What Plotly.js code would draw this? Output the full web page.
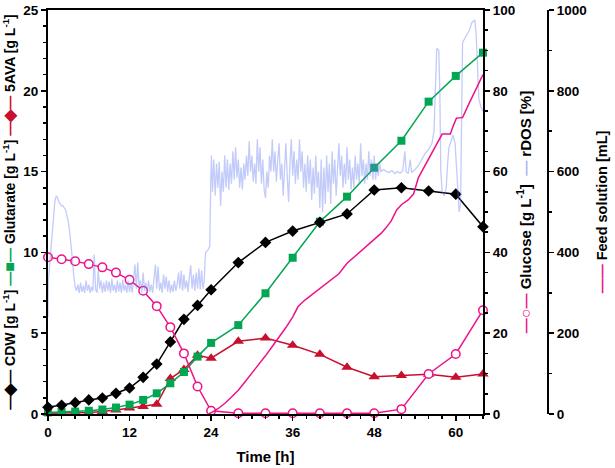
<!DOCTYPE html>
<html><head><meta charset="utf-8">
<script src="https://cdn.plot.ly/plotly-3.0.1.min.js"></script>
<style>html,body{margin:0;padding:0;background:#fff;} #chart{width:615px;height:468px;}</style>
</head><body><div id="chart"></div>
<script>
// Sampling times [h]
const sampleTime = [0,2,4,6,8,10,12,14,16,18,20,22,24,28,32,36,40,44,48,52,56,60,64];
// Cell dry weight [g/L]
const cdw = [0.41,0.54,0.70,0.87,0.99,1.28,1.61,2.27,3.09,4.46,5.86,6.72,7.69,9.37,10.62,11.32,11.86,12.38,13.86,14.0,13.8,13.6,11.59];
// Glutarate [g/L]
const glutarate = [0.10,0.12,0.15,0.20,0.28,0.40,0.58,0.87,1.28,1.90,2.60,3.55,4.40,5.50,7.47,9.67,11.90,13.45,15.24,16.91,19.33,20.92,22.36];
// 5AVA [g/L]
const ava = [0.05,0.05,0.08,0.10,0.15,0.25,0.37,0.47,0.60,2.19,2.76,3.63,3.45,4.50,4.70,4.25,3.69,2.89,2.31,2.39,2.46,2.27,2.48];
// Glucose [g/L]
const glucose = [38.8,38.3,37.8,37.1,36.3,35.0,33.2,30.5,26.7,21.5,15.0,6.8,0.8,0.2,0.2,0.2,0.2,0.2,0.2,1.2,9.9,14.85,25.7];
// Feed solution [mL]
const feedTime = [23.6,24,25,26,27,28,29,30,31,32,33,34,35,36,36.8,37.8,38.8,39.8,40.8,41.8,42.8,44,45,46,47,48,49,49.8,50.5,51.3,52,53,53.8,54.5,55.5,56.5,57.3,58,58.6,59.2,59.6,60.1,60.5,61,62,63,64];
const feedVolume = [0,3,13,26,42,59,80,101,122,144,167,190,214,240,266,282,295,307,320,332,347,373,388,402,416,431,447,462,478,505,518,530,545,585,615,645,670,693,693,693,712,732,733,734,770,805,840];
// rDOS [%]
const rdosTime = [0,0.05,0.2,0.4,0.6,0.8,1.0,1.2,1.4,1.6,1.8,2.0,2.2,2.4,2.6,2.8,3.0,3.2,3.4,3.6,3.8,4.0,4.2,
4.4,4.6,4.8,5.0,5.2,5.4,5.6,5.8,6.0,6.2,6.4,6.6,6.8,7.0,7.2,7.4,7.6,7.8,8.0,8.2,8.4,8.6,8.8,9.0,9.2,9.4,9.6,9.8,
10.0,10.2,10.4,10.6,10.8,11.0,11.2,11.4,11.6,11.8,12.0,12.2,12.4,12.6,12.8,13.0,13.2,13.4,13.6,13.8,14.0,14.2,14.4,14.6,14.8,
15.0,15.2,15.4,15.6,15.8,16.0,16.2,16.4,16.6,16.8,17.0,17.2,17.4,17.6,17.8,18.0,18.2,18.4,18.6,18.8,19.0,19.2,19.4,19.6,19.8,
20.0,20.2,20.4,20.6,20.8,21.0,21.2,21.4,21.6,21.8,22.0,22.2,22.4,22.6,22.8,23.0,23.1,23.2,23.5,23.8,23.95,24.05,
24.2,24.4,24.6,24.8,25.0,25.2,25.4,25.6,25.8,26.0,26.2,26.4,26.6,26.8,27.0,27.2,27.4,27.6,27.8,28.0,28.2,28.4,28.6,28.8,
29.0,29.2,29.4,29.6,29.8,30.0,30.2,30.4,30.6,30.8,31.0,31.2,31.4,31.6,31.8,32.0,32.2,32.4,32.6,32.8,33.0,33.2,33.4,33.6,33.8,
34.0,34.2,34.4,34.6,34.8,35.0,35.2,35.4,35.6,35.8,36.0,36.2,36.4,36.6,36.8,37.0,37.2,37.4,37.6,37.8,38.0,38.2,38.4,38.6,38.8,
39.0,39.2,39.4,39.6,39.8,40.0,40.2,40.4,40.6,40.8,41.0,41.2,41.4,41.6,41.8,42.0,42.2,42.4,42.6,42.8,43.0,43.2,43.4,43.6,43.8,
44.0,44.2,44.4,44.6,44.8,45.0,45.2,45.4,45.6,45.8,46.0,46.2,46.4,46.6,46.8,47.0,47.2,47.4,47.6,47.8,48.0,48.2,48.4,48.6,48.8,49.0,
49.4,49.8,50.2,50.6,51.0,51.4,51.8,52.2,52.5,52.7,53.0,53.3,53.5,54.0,54.5,55.0,55.5,56.0,56.5,56.8,57.0,57.2,57.5,57.65,57.8,
58.0,58.3,58.6,58.8,59.0,59.3,59.6,59.9,60.2,60.5,60.7,60.9,61.0,61.5,62.0,62.4,62.8,63.0,63.2,63.4,63.7,64.0];
const rdosValue = [24,33,36,40,45,50,52.5,54,53.5,52.5,52,51.5,51.5,51,50.5,49,47.5,45,42,38,34,31.5,30.5,
32,30,32.5,30.2,31.8,30,33,30.5,32,30,31.5,30.4,39.5,31,30,35.5,31,33,30,32.5,30.2,33,30.5,32.8,30,33.5,30.5,32,
30,33,30.3,32.5,30,33.2,30.5,32,30,33,30.2,32.5,30,33.5,37,31,37.5,31.5,33,30,35,30.5,32.5,30,33,
30.2,32,30,33.5,37,31,36.5,30.5,32.5,30,34.5,31,34,30.3,33,30,32,30.2,33,30.5,32,35,31,35.5,30.5,
34.5,31,33,30.2,34,36.8,31,34.5,30.5,35,31,36,30.8,35.5,31,33,38,40,40.5,41.5,58,64,
55,63,54,62,56,62.5,51.5,60,55,64,56,63,55.5,62,57,65,58,66,58.5,63,56,61,55.5,62,
58,64,59,67.5,60,64,57.5,62,57,68,60,66,57,63,55.5,53.5,60,56,64,60,68,60,65,57.5,63,
67,58,62,54,61,67,59,52.5,62,68,59,65,57,63,58,68,60,65,56,62,55,64,57,63,53,
61,54.5,64,56,60,51,63,50,61,52,64,55,62,52,65,57,63,54,61,67,59,64,56,62,57,
66,58,63,55.5,61,56,64,58,62,57,67,59,63,57,62,58,65,59,63,58,64,58,62,59,62,60,
60.5,60,59.8,60.3,59.5,60,59.6,60.2,65,60,59.5,63,59.8,60.5,61.5,63,64.5,65.5,67,70,82,90.5,90,80,60,
55,54,56,62,66,67.5,69,67,58,50,52,80,92,93.5,95,97,97.5,94,85,78,76,75];

const PINK = '#ee1289', GREEN = '#00a651', RED = '#c8102e', BLUE_T = 'rgba(110,130,240,0.42)';
const FONT = 'Liberation Sans, Arial, Helvetica, sans-serif';
const nb = '\u00a0';

const traces = [
  {x: sampleTime, y: ava, yaxis: 'y', xaxis: 'x', mode: 'lines+markers', cliponaxis: false,
   line: {color: RED, width: 1.5}, marker: {symbol: 'triangle-up', size: 10, color: RED}},
  {x: sampleTime, y: glutarate, yaxis: 'y', xaxis: 'x', mode: 'lines+markers', cliponaxis: false,
   line: {color: GREEN, width: 1.5}, marker: {symbol: 'square', size: 8, color: GREEN}},
  {x: sampleTime, y: cdw, yaxis: 'y', xaxis: 'x', mode: 'lines+markers', cliponaxis: false,
   line: {color: '#000', width: 1.5}, marker: {symbol: 'diamond', size: 9, color: '#000'}},
  {x: sampleTime, y: glucose, yaxis: 'y2', xaxis: 'x', mode: 'lines+markers', cliponaxis: false,
   line: {color: PINK, width: 1.5}, marker: {symbol: 'circle', size: 8.5, color: '#fff', line: {color: PINK, width: 1.5}}},
  {x: rdosTime, y: rdosValue, yaxis: 'y2', xaxis: 'x', mode: 'lines',
   line: {color: BLUE_T, width: 1.3}},
  {x: feedTime, y: feedVolume, yaxis: 'y3', xaxis: 'x', mode: 'lines',
   line: {color: PINK, width: 1.5}}
];

const tickfont = {family: FONT, size: 13.5, color: '#000', weight: 700};
const titlefont = {family: FONT, size: 14, color: '#000', weight: 700};
const titlefontR = {family: FONT, size: 15, color: '#000', weight: 700};
const axBase = {showline: true, linewidth: 2, linecolor: '#000', ticks: 'outside', ticklen: 5, tickwidth: 1.5,
  tickcolor: '#000', showgrid: false, zeroline: false, tickfont: tickfont, automargin: false};

function sym(color, ch) {
  return '<span style="color:' + color + '">\u2014</span><span style="color:' + color + ';font-size:16px">' + ch +
    '</span><span style="color:' + color + '">\u2014</span>';
}
const leftTitle = sym('#000', '\u25C6') + nb + 'CDW [g L<sup>-1</sup>]' + nb +
  sym(GREEN, '\u25A0') + nb + 'Glutarate [g L<sup>-1</sup>]' + nb +
  sym(RED, '\u25C6') + nb + '5AVA [g L<sup>-1</sup>]';
const rightTitle = sym(PINK, '\u25CB') + nb + 'Glucose [g L<sup>-1</sup>]' + nb + nb +
  '<span style="color:#aab4f5">\u2014</span>' + nb + 'rDOS [%]';
const feedTitle = '<span style="color:' + PINK + '">\u2014\u2014</span>' + nb + 'Feed solution [mL]';

const layout = {
  width: 615, height: 468,
  margin: {l: 48, r: 67.3, t: 10, b: 54},
  paper_bgcolor: '#fff', plot_bgcolor: 'rgba(0,0,0,0)',
  showlegend: false,
  font: {family: FONT, color: '#000'},
  xaxis: Object.assign({}, axBase, {
    domain: [0, 0.86992], range: [0, 64], tick0: 0, dtick: 12, mirror: true,
    minor: {dtick: 2, ticklen: 3, tickwidth: 1.5, ticks: 'outside', tickcolor: '#000', showgrid: false},
    title: {text: 'Time [h]', font: titlefontR, standoff: 12}
  }),
  yaxis: Object.assign({}, axBase, {
    range: [0, 25], tick0: 0, dtick: 5, anchor: 'x',
    minor: {dtick: 1, ticklen: 3, tickwidth: 1.5, ticks: 'outside', tickcolor: '#000', showgrid: false},
    title: {text: leftTitle, font: titlefont, standoff: 5}
  }),
  yaxis2: Object.assign({}, axBase, {
    overlaying: 'y', side: 'right', anchor: 'x', range: [0, 100], tick0: 0, dtick: 20,
    minor: {dtick: 5, ticklen: 3, tickwidth: 1.5, ticks: 'outside', tickcolor: '#000', showgrid: false},
    title: {text: rightTitle, font: titlefontR, standoff: 6}
  }),
  yaxis3: Object.assign({}, axBase, {
    overlaying: 'y', side: 'right', anchor: 'free', position: 1, range: [0, 1000], tick0: 0, dtick: 200,
    minor: {dtick: 100, ticklen: 3, tickwidth: 1.5, ticks: 'outside', tickcolor: '#000', showgrid: false},
    title: {text: feedTitle, font: {family: FONT, size: 14.5, color: '#000', weight: 700}, standoff: 10}
  })
};

Plotly.newPlot('chart', traces, layout, {displayModeBar: false, staticPlot: true});
</script>
</body></html>
